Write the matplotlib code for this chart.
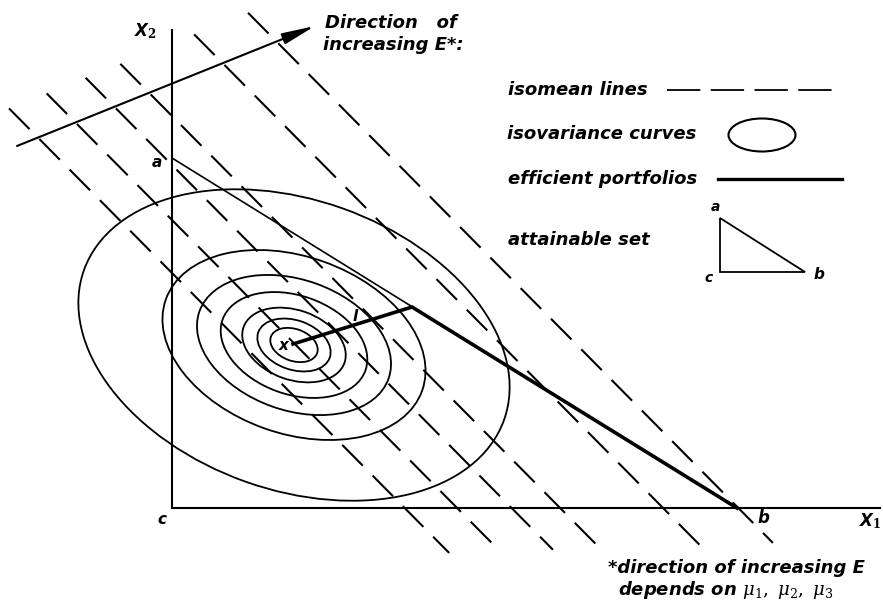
import numpy as np
import matplotlib.pyplot as plt
from matplotlib.patches import Ellipse, Polygon

plt.rcParams['lines.scale_dashes'] = False
plt.rcParams['mathtext.fontset'] = 'dejavuserif'

# attainable set corners (X1, X2)
corner_a = (0.0, 3.50)
corner_b = (5.65, 0.0)
corner_c = (0.0, 0.0)

# isomean lines: X2-intercepts and common slope
iso_levels = [2.35, 2.88, 3.43, 3.92, 4.96, 5.72]
iso_slope = -1.01

# isovariance ellipses around the minimum-variance point X
var_center = (1.22, 1.63)
var_a, var_b, var_angle = 2.23, 1.45, -19.6
var_scales = [1.0, 0.61, 0.45, 0.34, 0.24, 0.17, 0.11]

# efficient portfolios: X -> l -> b
eff_x = [1.21, 2.40, 5.65]
eff_y = [1.64, 2.01, 0.0]

fig = plt.figure(figsize=(8.83, 6.01), dpi=100)
ax = fig.add_axes([0, 0, 1, 1])
ax.set_xlim(-1.72, 7.11)
ax.set_ylim(-0.93, 5.08)
ax.axis('off')

font = dict(family='DejaVu Sans', weight='bold', style='italic', color='black')

# axes X1, X2
ax.plot([0, 0], [0, 4.78], color='black', lw=1.5)
ax.plot([0, 7.08], [0, 0], color='black', lw=1.5)
ax.text(-0.27, 4.77, r'X$_\mathbf{2}$', fontsize=12, ha='center', va='center', **font)
ax.text(6.98, -0.13, r'X$_\mathbf{1}$', fontsize=12, ha='center', va='center', **font)

# direction of increasing E
ax.annotate('', xy=(1.43, 4.82), xytext=(-1.55, 3.62),
            arrowprops=dict(arrowstyle='-|>,head_length=1.0,head_width=0.17',
                            lw=1.5, color='black', mutation_scale=20,
                            shrinkA=0, shrinkB=0))
ax.text(1.53, 4.85, 'Direction   of', fontsize=13, ha='left', va='center', **font)
ax.text(1.51, 4.63, 'increasing E*:', fontsize=13, ha='left', va='center', **font)

# isomean lines, clipped between two guide lines
for L in iso_levels:
    x0 = (4.648 - L) / (iso_slope - 0.4)
    x1 = (-0.535 - L) / (iso_slope - 0.031)
    xs = np.array([x0, x1])
    ax.plot(xs, L + iso_slope * xs, color='black', lw=1.5,
            linestyle=(0, (21, 10)))

# isovariance curves
for s in var_scales:
    ax.add_patch(Ellipse(var_center, 2 * var_a * s, 2 * var_b * s,
                         angle=var_angle, fill=False, lw=1.3, ec='black'))

# attainable set edge a-b (thin) and efficient set (thick)
ax.plot([corner_a[0], corner_b[0]], [corner_a[1], corner_b[1]],
        color='black', lw=1.2)
ax.plot(eff_x, eff_y, color='black', lw=2.6, solid_joinstyle='miter')

ax.text(-0.15, 3.45, 'a', fontsize=11, ha='center', va='center', **font)
ax.text(-0.10, -0.11, 'c', fontsize=11, ha='center', va='center', **font)
ax.text(5.91, -0.10, 'b', fontsize=12, ha='center', va='center', **font)
ax.text(1.83, 1.91, 'l', fontsize=11, ha='center', va='center', **font)
ax.text(1.12, 1.63, 'x', fontsize=11, ha='center', va='center', **font)

# key
ax.text(3.36, 4.18, 'isomean lines', fontsize=13, ha='left', va='center', **font)
ax.plot([4.95, 6.66], [4.18, 4.18], color='black', lw=1.3, linestyle=(0, (24, 7.5)))
ax.text(3.35, 3.74, 'isovariance curves', fontsize=13, ha='left', va='center', **font)
ax.add_patch(Ellipse((5.90, 3.73), 0.67, 0.33, fill=False, lw=1.5, ec='black'))
ax.text(3.36, 3.29, 'efficient portfolios', fontsize=13, ha='left', va='center', **font)
ax.plot([5.46, 6.70], [3.29, 3.29], color='black', lw=2.4)
ax.text(3.36, 2.68, 'attainable set', fontsize=13, ha='left', va='center', **font)
ax.add_patch(Polygon([(5.48, 2.90), (5.48, 2.36), (6.33, 2.36)], closed=True,
                     fill=False, lw=1.3, ec='black'))
ax.text(5.43, 3.01, 'a', fontsize=10, ha='center', va='center', **font)
ax.text(5.37, 2.30, 'c', fontsize=10, ha='center', va='center', **font)
ax.text(6.47, 2.33, 'b', fontsize=11, ha='center', va='center', **font)

# footnote
ax.text(4.36, -0.60, '*direction of increasing E', fontsize=13, ha='left', va='center', **font)
ax.text(4.46, -0.82, r'depends on $\mu_1,\ \mu_2,\ \mu_3$', fontsize=13, ha='left', va='center', **font)

fig.savefig('out.png', dpi=100)
